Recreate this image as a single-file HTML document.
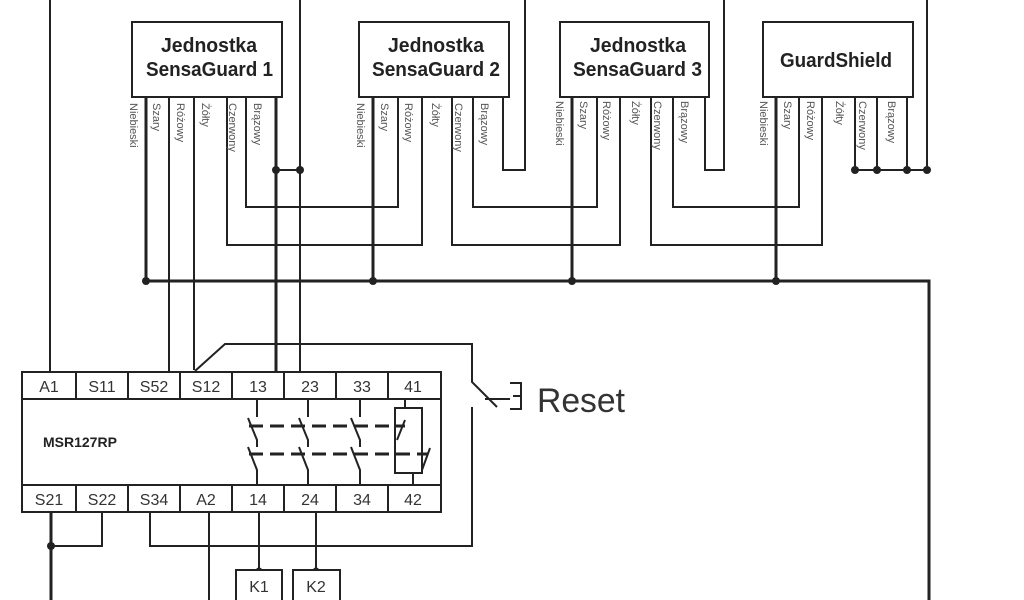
<!DOCTYPE html>
<html><head><meta charset="utf-8"><style>
html,body{margin:0;padding:0;background:#fff;width:1024px;height:600px;overflow:hidden}
svg{display:block}
.t{font-family:"Liberation Sans",sans-serif}
.w{fill:none;stroke:#222;stroke-width:2}
.th{fill:none;stroke:#222;stroke-width:3}
.lb{font-family:"Liberation Sans",sans-serif;font-size:11px;fill:#555}
.tm{font-family:"Liberation Sans",sans-serif;font-size:16px;fill:#333}
</style></head><body>
<svg width="1024" height="600" viewBox="0 0 1024 600" xmlns="http://www.w3.org/2000/svg">
<path class="w" d="M50 0V372"/>
<path class="w" d="M300 0V372"/>
<path class="w" d="M525 0V170H503V97"/>
<path class="w" d="M724 0V170H705V97"/>
<path class="w" d="M927 0V170H855V97M877 97V170M907 97V170"/>
<path class="th" d="M146 281H929V600"/>
<path class="th" d="M146 97V281M373 97V281M572 97V281M776 97V281"/>
<path class="w" d="M169 97V372"/>
<path class="w" d="M194 97V370"/>
<path class="w" d="M227 97V245H422V97"/>
<path class="w" d="M246 97V207H398V97"/>
<path class="th" d="M276 97V372"/>
<path class="w" d="M276 170H300"/>
<path class="w" d="M452 97V245H620V97"/>
<path class="w" d="M473 97V207H597V97"/>
<path class="w" d="M651 97V245H822V97"/>
<path class="w" d="M673 97V207H799V97"/>
<g fill="#222">
<circle cx="146" cy="281" r="4"/><circle cx="373" cy="281" r="4"/><circle cx="572" cy="281" r="4"/><circle cx="776" cy="281" r="4"/>
<circle cx="276" cy="170" r="4"/><circle cx="300" cy="170" r="4"/>
<circle cx="855" cy="170" r="4"/><circle cx="877" cy="170" r="4"/><circle cx="907" cy="170" r="4"/><circle cx="927" cy="170" r="4"/>
<circle cx="51" cy="546" r="4"/><circle cx="259" cy="571" r="3.5"/><circle cx="316" cy="571" r="3.5"/>
</g>
<g fill="#fff" stroke="#222" stroke-width="2">
<rect x="132" y="22" width="150" height="75"/>
<rect x="359" y="22" width="150" height="75"/>
<rect x="560" y="22" width="149" height="75"/>
<rect x="763" y="22" width="150" height="75"/>
</g>
<g class="t" font-size="20" font-weight="bold" fill="#222" lengthAdjust="spacingAndGlyphs">
<text x="161" y="52" textLength="96" lengthAdjust="spacingAndGlyphs">Jednostka</text><text x="146" y="76" textLength="127" lengthAdjust="spacingAndGlyphs">SensaGuard 1</text>
<text x="388" y="52" textLength="96" lengthAdjust="spacingAndGlyphs">Jednostka</text><text x="372" y="76" textLength="128" lengthAdjust="spacingAndGlyphs">SensaGuard 2</text>
<text x="590" y="52" textLength="96" lengthAdjust="spacingAndGlyphs">Jednostka</text><text x="573" y="76" textLength="129" lengthAdjust="spacingAndGlyphs">SensaGuard 3</text>
<text x="780" y="67" textLength="112" lengthAdjust="spacingAndGlyphs">GuardShield</text>
</g>
<g class="lb">
<text transform="translate(130,103) rotate(90)">Niebieski</text>
<text transform="translate(153,103) rotate(90)">Szary</text>
<text transform="translate(177,103) rotate(90)">Różowy</text>
<text transform="translate(202,103) rotate(90)">Żółty</text>
<text transform="translate(229,103) rotate(90)">Czerwony</text>
<text transform="translate(254,103) rotate(90)">Brązowy</text>
<text transform="translate(357,103) rotate(90)">Niebieski</text>
<text transform="translate(381,103) rotate(90)">Szary</text>
<text transform="translate(405,103) rotate(90)">Różowy</text>
<text transform="translate(432,103) rotate(90)">Żółty</text>
<text transform="translate(455,103) rotate(90)">Czerwony</text>
<text transform="translate(481,103) rotate(90)">Brązowy</text>
<text transform="translate(556,101) rotate(90)">Niebieski</text>
<text transform="translate(580,101) rotate(90)">Szary</text>
<text transform="translate(603,101) rotate(90)">Różowy</text>
<text transform="translate(632,101) rotate(90)">Żółty</text>
<text transform="translate(654,101) rotate(90)">Czerwony</text>
<text transform="translate(681,101) rotate(90)">Brązowy</text>
<text transform="translate(760,101) rotate(90)">Niebieski</text>
<text transform="translate(784,101) rotate(90)">Szary</text>
<text transform="translate(807,101) rotate(90)">Różowy</text>
<text transform="translate(836,101) rotate(90)">Żółty</text>
<text transform="translate(859,101) rotate(90)">Czerwony</text>
<text transform="translate(888,101) rotate(90)">Brązowy</text>
</g>
<path class="w" d="M195 371L225 344H472V382L497 407"/>
<path class="w" d="M485 399H510M510 383H521V409H510M513 396H521"/>
<text class="t" x="537" y="412" font-size="34" fill="#333" textLength="88" lengthAdjust="spacingAndGlyphs">Reset</text>
<path class="w" d="M472 407V546H150V512"/>
<rect x="22" y="372" width="419" height="140" fill="#fff" stroke="#222" stroke-width="2"/>
<path class="w" d="M22 399H441M22 485H441M76 372V399M128 372V399M180 372V399M232 372V399M284 372V399M336 372V399M388 372V399M76 485V512M128 485V512M180 485V512M232 485V512M284 485V512M336 485V512M388 485V512"/>
<g class="tm" text-anchor="middle">
<text x="49" y="392">A1</text><text x="102" y="392">S11</text><text x="154" y="392">S52</text><text x="206" y="392">S12</text>
<text x="258" y="392">13</text><text x="310" y="392">23</text><text x="362" y="392">33</text><text x="413" y="392">41</text>
<text x="49" y="505">S21</text><text x="102" y="505">S22</text><text x="154" y="505">S34</text><text x="206" y="505">A2</text>
<text x="258" y="505">14</text><text x="310" y="505">24</text><text x="362" y="505">34</text><text x="413" y="505">42</text>
</g>
<text class="t" x="43" y="447" font-size="14" font-weight="bold" fill="#222">MSR127RP</text>
<g class="w">
<path d="M257 399V417M248 418L257 440V447M248 447L257 470V485"/>
<path d="M308 399V417M299 418L308 440V447M299 447L308 470V485"/>
<path d="M360 399V417M351 418L360 440V447M351 447L360 470V485"/>
<rect x="395" y="408" width="27" height="65"/>
<path d="M405 399V408M413 473V485M397 440L405 420M422 470L430 448"/>
<path stroke-width="3" stroke-dasharray="14,7" d="M249 426H405M249 454H428"/>
</g>
<path class="th" d="M51 512V600"/>
<path class="w" d="M51 546H102V512"/>
<path class="w" d="M209 512V600"/>
<path class="w" d="M259 512V571M316 512V571"/>
<rect x="236" y="570" width="46" height="32" fill="#fff" stroke="#222" stroke-width="2"/>
<rect x="293" y="570" width="47" height="32" fill="#fff" stroke="#222" stroke-width="2"/>
<g class="tm" text-anchor="middle"><text x="259" y="592">K1</text><text x="316" y="592">K2</text></g>
</svg>
</body></html>
